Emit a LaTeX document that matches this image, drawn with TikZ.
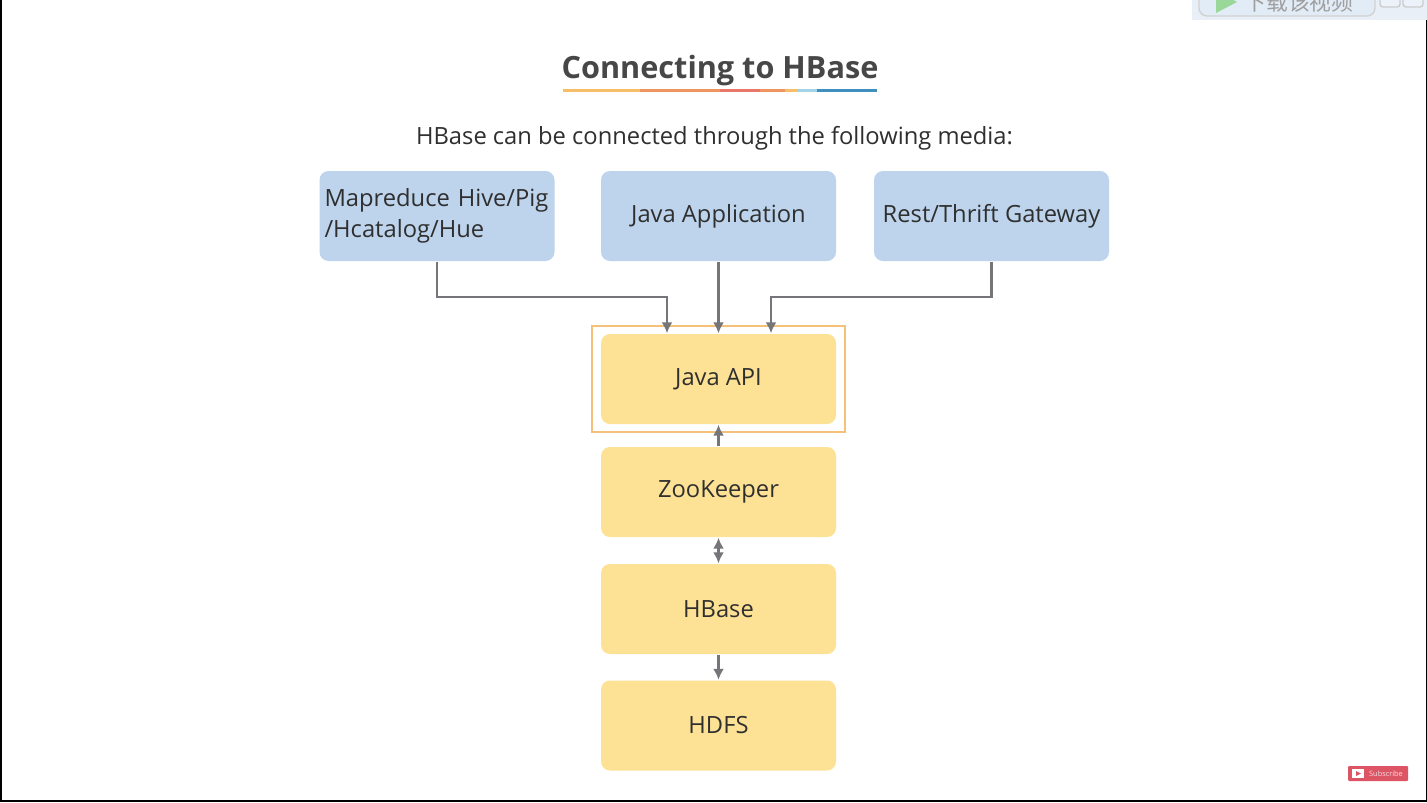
\documentclass[tikz,border=0pt]{standalone}
\usepackage{fontspec}
\usepackage{xcolor}
\usetikzlibrary{arrows.meta}
\setmainfont{Open Sans}
\newfontfamily\cjkfont{Noto Sans CJK SC}
\definecolor{boxblue}{HTML}{BDD4EC}
\definecolor{boxyellow}{HTML}{FDE295}
\definecolor{framegold}{HTML}{F5C078}
\definecolor{flowgray}{HTML}{75767A}
\definecolor{inkgray}{HTML}{2F2F2F}
\definecolor{bannerblue}{HTML}{E9EFF7}
\definecolor{subred}{HTML}{DD5464}
\tikzset{
  mediabox/.style={fill=boxblue, rounded corners=0.09cm, minimum width=2.35cm, minimum height=0.9cm, inner sep=0.05cm, text=inkgray, font=\fontsize{6.75}{8.8}\selectfont},
  stackbox/.style={mediabox, fill=boxyellow},
  flow/.style={draw=flowgray, line width=0.025cm, -{Latex[length=0.11cm,width=0.11cm]}},
}
\begin{document}
\begin{tikzpicture}[x=1cm, y=-1cm]
  \useasboundingbox (0,0) rectangle (14.27,8.02);
  \fill[white] (0,0) rectangle (14.27,8.02);
  \fill[black] (0,0) rectangle (0.02,8.02);
  \fill[black] (0,8.00) rectangle (14.27,8.02);
  \fill[black] (14.26,0.2) rectangle (14.27,8.02);
  % banner
  \fill[bannerblue] (11.92,0) rectangle (14.27,0.2);
  \begin{scope}
    \clip (11.92,0) rectangle (14.27,0.2);
    \draw[gray!35, rounded corners=0.08cm, fill=white!55!boxblue] (11.99,-0.2) rectangle (13.75,0.16);
    \fill[green!45!gray!55] (12.16,-0.1) -- (12.37,0.02) -- (12.16,0.13) -- cycle;
    \node[text=gray!75, font=\cjkfont\fontsize{6.2}{7}\selectfont] (bannertext) at (12.99,0.02) {下载该视频};
    \draw[gray!40, rounded corners=0.03cm, fill=white!70!boxblue] (13.8,-0.2) rectangle (14.0,0.07);
    \draw[gray!40, rounded corners=0.03cm, fill=white!70!boxblue] (14.03,-0.2) rectangle (14.23,0.07);
  \end{scope}
  % title
  \node[text=black!72, font=\fontsize{8.72}{11}\selectfont\bfseries] (title) at (7.2,0.71) {Connecting to HBase};
  \foreach \i/\j/\lbl in {5.63/6.40/F7BE69,6.40/7.20/EF9560,7.20/7.60/E9786A,7.60/7.85/EF9560,7.85/7.97/F7BE69,7.97/8.17/A3D3E6,8.17/8.77/3F8FBF} {
    \definecolor{segcolor}{HTML}{\lbl}
    \fill[segcolor] (\i,0.885) rectangle (\j,0.915);
  }
  \node[text=inkgray, font=\fontsize{6.75}{9}\selectfont] (subtitle) at (7.145,1.385) {HBase can be connected through the following media:};
  % media row
  \node[mediabox, align=left, text width=2.25cm] (mapred) at (4.37,2.16) {Mapreduce Hive/Pig\\/Hcatalog/Hue};
  \node[mediabox] (javaapp) at (7.185,2.16) {Java Application};
  \node[mediabox] (gateway) at (9.915,2.16) {Rest/Thrift Gateway};
  % stack
  \node[stackbox] (api) at (7.185,3.79) {Java API};
  \node[stackbox] (zoo) at (7.185,4.92) {ZooKeeper};
  \node[stackbox] (hbase) at (7.185,6.09) {HBase};
  \node[stackbox] (hdfs) at (7.185,7.255) {HDFS};
  \draw[framegold, line width=0.02cm] (5.92,3.26) rectangle (8.45,4.32);
  \coordinate (leftbend) at (6.67,2.97);
  \coordinate (rightbend) at (7.71,2.97);
  \draw[flow] (mapred.south) |- (leftbend) -- (api.north -| leftbend);
  \draw[flow] (javaapp.south) -- (api.north);
  \draw[flow] (gateway.south) |- (rightbend) -- (api.north -| rightbend);
  \draw[flow] (zoo.north) -- (api.south);
  \draw[flow, {Latex[length=0.11cm,width=0.11cm]}-{Latex[length=0.11cm,width=0.11cm]}] (zoo.south) -- (hbase.north);
  \draw[flow] (hbase.south) -- (hdfs.north);
  % subscribe
  \node[fill=subred, rounded corners=0.01cm, minimum width=0.6cm, minimum height=0.15cm, inner sep=0pt] (subscribe) at (13.78,7.735) {};
  \fill[white] (13.52,7.69) rectangle (13.64,7.78);
  \fill[subred] (13.56,7.71) -- (13.61,7.735) -- (13.56,7.76) -- cycle;
  \node[text=white!80!subred, font=\fontsize{2.1}{3}\selectfont, inner sep=0pt] (subscribetext) at (13.86,7.735) {Subscribe};
\end{tikzpicture}
\end{document}
